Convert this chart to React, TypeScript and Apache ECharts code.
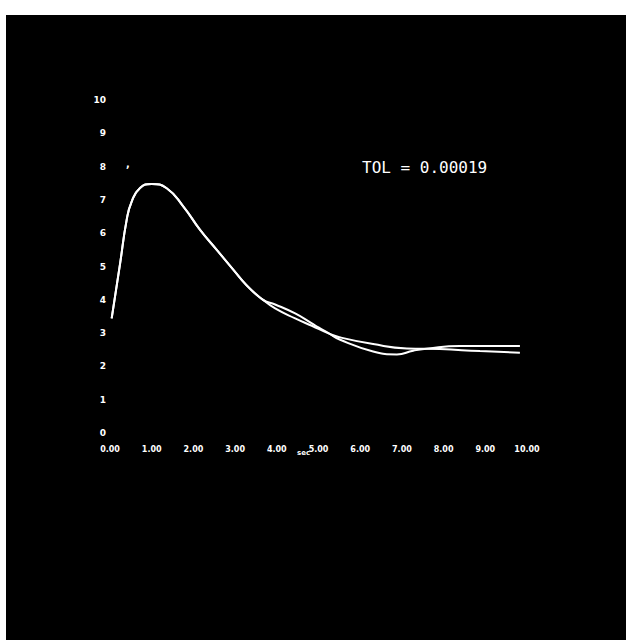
import React, { useEffect, useRef } from "react";
import * as echarts from "echarts";

// Axis ticks (units of the plotting grid)
const xTicks = [0, 1, 2, 3, 4, 5, 6, 7, 8, 9, 10];
const yTicks = [0, 1, 2, 3, 4, 5, 6, 7, 8, 9, 10];

// Shared part of the two curves (rise, peak and decay)
const sharedX = [0.04, 0.24, 0.4, 0.52, 0.72, 1.0, 1.36, 1.76, 2.16, 2.56, 2.96, 3.28, 3.68];
const sharedY = [3.44, 5.07, 6.4, 6.95, 7.36, 7.48, 7.35, 6.8, 6.1, 5.5, 4.9, 4.43, 3.99];

// Smooth (true) curve tail
const smoothX = [3.96, 4.44, 4.84, 5.24, 5.52, 6.31, 7.12, 7.91, 8.87, 9.83];
const smoothY = [3.74, 3.44, 3.22, 2.99, 2.87, 2.67, 2.54, 2.52, 2.46, 2.41];

// Oscillating (approximation) curve tail
const approxX = [3.96, 4.44, 4.84, 5.0, 5.24, 5.52, 6.31, 6.88, 7.27, 7.63, 8.39, 9.83];
const approxY = [3.86, 3.59, 3.29, 3.17, 3.0, 2.8, 2.45, 2.36, 2.47, 2.54, 2.61, 2.61];

const tolText = "TOL = 0.00019";

function pairs(xs: number[], ys: number[]) {
  return xs.map((x, i) => [x, ys[i]]);
}

export default function App() {
  const ref = useRef<HTMLDivElement>(null);
  useEffect(() => {
    if (!ref.current) return;
    const chart = echarts.init(ref.current, null, { renderer: "svg" });
    const lineStyle = { color: "#ffffff", width: 2 };
    chart.setOption({
      animation: false,
      backgroundColor: "#000000",
      grid: { left: 104, right: 99, top: 85, bottom: 207 },
      xAxis: {
        type: "value",
        min: 0,
        max: 10,
        interval: 1,
        axisLine: { show: false },
        axisTick: { show: false },
        splitLine: { show: false },
        axisLabel: {
          color: "#ffffff",
          fontSize: 8,
          fontWeight: "bold",
          fontFamily: "DejaVu Sans",
          margin: 12,
          formatter: (v: number) => (xTicks.includes(v) ? v.toFixed(2) : ""),
        },
      },
      yAxis: {
        type: "value",
        min: 0,
        max: 10,
        interval: 1,
        axisLine: { show: false },
        axisTick: { show: false },
        splitLine: { show: false },
        axisLabel: {
          color: "#ffffff",
          fontSize: 9,
          fontWeight: "bold",
          fontFamily: "DejaVu Sans",
          margin: 4,
          formatter: (v: number) => (yTicks.includes(v) ? String(v) : ""),
        },
      },
      series: [
        {
          type: "line",
          name: "exact",
          smooth: 0.5,
          showSymbol: false,
          lineStyle,
          data: pairs([...sharedX, ...smoothX], [...sharedY, ...smoothY]),
        },
        {
          type: "line",
          name: "approximation",
          smooth: 0.5,
          showSymbol: false,
          lineStyle,
          data: pairs([...sharedX, ...approxX], [...sharedY, ...approxY]),
        },
      ],
      graphic: [
        {
          type: "text",
          left: 356,
          top: 144,
          style: {
            text: tolText,
            fill: "#ffffff",
            font: "16px 'DejaVu Sans Mono'",
          },
        },
        {
          type: "text",
          left: 120,
          top: 143,
          style: { text: ",", fill: "#ffffff", font: "bold 10px 'DejaVu Sans'" },
        },
        {
          type: "text",
          left: 291,
          top: 434,
          style: { text: "sec", fill: "#ffffff", font: "bold 7px 'DejaVu Sans'" },
        },
      ],
    });
    return () => chart.dispose();
  }, []);
  return (
    <div
      style={{
        position: "fixed",
        left: 0,
        top: 0,
        width: 626,
        height: 640,
        background: "#ffffff",
      }}
    >
      <div
        ref={ref}
        style={{ position: "absolute", left: 6, top: 15, width: 620, height: 625 }}
      />
    </div>
  );
}
